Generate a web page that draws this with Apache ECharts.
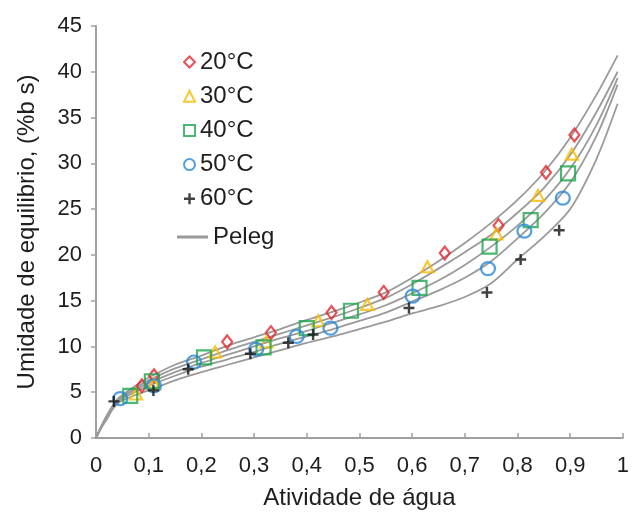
<!DOCTYPE html>
<html>
<head>
<meta charset="utf-8">
<script src="https://cdn.jsdelivr.net/npm/echarts@6/dist/echarts.min.js"></script>
<style>
html,body{margin:0;padding:0;background:#fff;}
#chart{width:632px;height:516px;}
</style>
</head>
<body>
<div id="chart"></div>
<script>
// ---- data ----
const xTicks = [0, 0.1, 0.2, 0.3, 0.4, 0.5, 0.6, 0.7, 0.8, 0.9, 1];
const yTicks = [0, 5, 10, 15, 20, 25, 30, 35, 40, 45];

const seriesNames = ['20°C', '30°C', '40°C', '50°C', '60°C'];

const aw20 = [0.087, 0.110, 0.249, 0.332, 0.447, 0.546, 0.662, 0.764, 0.854, 0.908];
const m20  = [5.7, 6.8, 10.5, 11.5, 13.7, 15.9, 20.2, 23.2, 29.0, 33.1];

const aw30 = [0.076, 0.110, 0.226, 0.323, 0.422, 0.515, 0.629, 0.760, 0.839, 0.903];
const m30  = [4.8, 5.9, 9.4, 10.5, 12.8, 14.6, 18.7, 22.3, 26.5, 31.0];

const aw40 = [0.065, 0.106, 0.205, 0.318, 0.400, 0.484, 0.614, 0.747, 0.825, 0.896];
const m40  = [4.6, 6.2, 8.8, 9.9, 12.0, 13.9, 16.4, 20.9, 23.8, 28.9];

const aw50 = [0.046, 0.110, 0.186, 0.304, 0.381, 0.445, 0.601, 0.744, 0.813, 0.886];
const m50  = [4.3, 5.7, 8.3, 9.7, 11.1, 12.0, 15.5, 18.5, 22.6, 26.2];

const aw60 = [0.034, 0.109, 0.175, 0.293, 0.365, 0.412, 0.594, 0.742, 0.806, 0.879];
const m60  = [4.0, 5.2, 7.5, 9.2, 10.4, 11.3, 14.2, 15.9, 19.5, 22.7];

// Peleg curves
const awCurve = [0, 0.01, 0.02, 0.03, 0.04, 0.05, 0.075, 0.1, 0.15, 0.2, 0.25, 0.3, 0.35, 0.4, 0.45, 0.5, 0.55, 0.6, 0.65, 0.7, 0.75, 0.8, 0.85, 0.9, 0.95, 0.99];
const peleg20 = [0, 1.3, 2.4, 3.4, 4.2, 4.7, 5.7, 6.6, 8.0, 9.0, 10.1, 11.0, 11.9, 12.9, 13.8, 14.8, 15.9, 17.5, 19.3, 21.3, 23.5, 26.0, 29.0, 32.8, 37.5, 41.8];
const peleg30 = [0, 1.25, 2.3, 3.3, 4.1, 4.6, 5.5, 6.3, 7.6, 8.6, 9.6, 10.5, 11.4, 12.3, 13.2, 14.2, 15.3, 16.8, 18.5, 20.3, 22.2, 24.6, 27.3, 30.9, 35.6, 40.0];
const peleg40 = [0, 1.2, 2.2, 3.2, 4.0, 4.45, 5.3, 6.0, 7.2, 8.2, 9.1, 10.0, 10.9, 11.7, 12.6, 13.5, 14.5, 15.8, 17.2, 18.9, 20.9, 23.2, 25.9, 29.4, 34.2, 39.3];
const peleg50 = [0, 1.15, 2.1, 3.1, 3.9, 4.3, 5.05, 5.7, 6.8, 7.8, 8.6, 9.4, 10.3, 11.1, 11.9, 12.8, 13.7, 14.9, 16.1, 17.5, 19.3, 21.8, 24.5, 27.9, 33.0, 38.6];
const peleg60 = [0, 1.1, 2.0, 3.0, 3.7, 4.1, 4.7, 5.2, 6.3, 7.2, 8.0, 8.8, 9.6, 10.4, 11.1, 11.9, 12.7, 13.6, 14.4, 15.4, 16.9, 19.5, 22.0, 25.0, 30.5, 36.5];

// ---- build ----
const zip = (xs, ys) => xs.map((x, i) => [x, ys[i]]);
const FONT = 'Liberation Sans, Arial, sans-serif';
const TXT = '#1e1e1e';

const plusPath = 'path://M3.9,0 L6.1,0 L6.1,3.9 L10,3.9 L10,6.1 L6.1,6.1 L6.1,10 L3.9,10 L3.9,6.1 L0,6.1 L0,3.9 L3.9,3.9 Z';

const markerDefs = [
  {name: seriesNames[0], x: aw20, y: m20, symbol: 'diamond', size: [10, 13], color: '#e3262d', hollow: true},
  {name: seriesNames[1], x: aw30, y: m30, symbol: 'triangle', size: [12, 11], color: '#f7bb00', hollow: true},
  {name: seriesNames[2], x: aw40, y: m40, symbol: 'rect', size: [14, 14], color: '#1ea64f', hollow: true},
  {name: seriesNames[3], x: aw50, y: m50, symbol: 'circle', size: [14, 13], color: '#2a8ad8', hollow: true},
  {name: seriesNames[4], x: aw60, y: m60, symbol: plusPath, size: [11, 11], color: '#111111', hollow: false}
];

const curves = [peleg20, peleg30, peleg40, peleg50, peleg60];

const series = [];
curves.forEach(c => {
  series.push({
    name: 'Peleg',
    type: 'line',
    data: zip(awCurve, c),
    smooth: 0.3,
    showSymbol: false,
    symbol: 'none',
    lineStyle: {color: '#9a9a9a', width: 1.8},
    itemStyle: {color: '#9a9a9a'},
    z: 1,
    silent: true
  });
});
markerDefs.forEach(m => {
  series.push({
    name: m.name,
    type: 'scatter',
    data: zip(m.x, m.y),
    symbol: m.symbol,
    symbolSize: m.size,
    itemStyle: m.hollow
      ? {color: 'rgba(255,255,255,0)', borderColor: m.color, borderWidth: 2.2}
      : {color: m.color},
    z: 3
  });
});

const chart = echarts.init(document.getElementById('chart'), null, {renderer: 'canvas'});
chart.setOption({
  animation: false,
  backgroundColor: '#ffffff',
  grid: {left: 96, right: 5, top: 26, bottom: 78, containLabel: false},
  legend: [
    {
      data: seriesNames,
      orient: 'vertical',
      left: 183,
      top: 50,
      padding: 0,
      itemWidth: 11,
      itemHeight: 11,
      itemGap: 10.2,
      itemTextGap: 7,
      textStyle: {fontFamily: FONT, fontSize: 24, color: TXT, lineHeight: 24}
    },
    {
      data: [{name: 'Peleg', icon: 'rect'}],
      orient: 'vertical',
      left: 177,
      top: 225,
      padding: 0,
      itemWidth: 31,
      itemHeight: 3,
      itemTextGap: 3,
      textStyle: {fontFamily: FONT, fontSize: 24, color: TXT, lineHeight: 24}
    }
  ],
  xAxis: {
    type: 'value',
    min: xTicks[0],
    max: xTicks[xTicks.length - 1],
    interval: 0.1,
    name: 'Atividade de água',
    nameLocation: 'middle',
    nameGap: 48,
    nameTextStyle: {fontFamily: FONT, fontSize: 24, color: TXT},
    axisLine: {show: true, lineStyle: {color: '#a0a0a0', width: 2}},
    axisTick: {show: true, inside: true, length: 5, lineStyle: {color: '#a0a0a0', width: 1.5}},
    axisLabel: {
      margin: 17,
      fontFamily: FONT, fontSize: 22, color: TXT,
      formatter: v => {
        const r = Math.round(v * 10) / 10;
        return String(r).replace('.', ',');
      }
    },
    splitLine: {show: false}
  },
  yAxis: {
    type: 'value',
    min: yTicks[0],
    max: yTicks[yTicks.length - 1],
    interval: 5,
    name: 'Umidade de equilibrio, (%b s)',
    nameLocation: 'middle',
    nameGap: 57,
    nameTextStyle: {fontFamily: FONT, fontSize: 24, color: TXT},
    axisLine: {show: true, lineStyle: {color: '#a0a0a0', width: 2}},
    axisTick: {show: true, inside: false, length: 5, lineStyle: {color: '#a0a0a0', width: 1.5}},
    axisLabel: {margin: 14, fontFamily: FONT, fontSize: 22, color: TXT},
    splitLine: {show: false}
  },
  series: series
});
</script>
</body>
</html>
